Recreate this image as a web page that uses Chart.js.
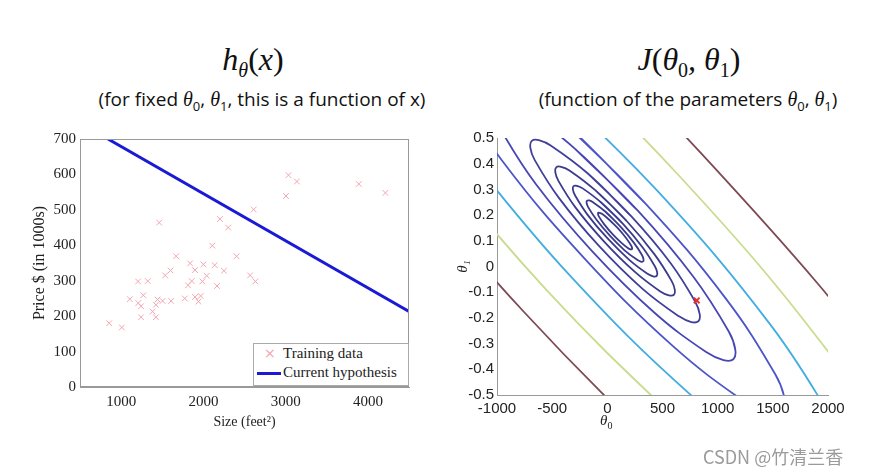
<!DOCTYPE html>
<html>
<head>
<meta charset="utf-8">
<script src="https://cdn.jsdelivr.net/npm/chart.js@4.4.0/dist/chart.umd.min.js"></script>
<style>
  body { margin: 0; background: #fff; width: 870px; height: 474px; position: relative; overflow: hidden; }
  .abs { position: absolute; }
  .math { font-family: "Liberation Serif", serif; font-style: italic; }
  .up { font-style: normal; }
  .ttl { font-size: 32px; line-height: 34px; text-align: center; white-space: nowrap; color: #111; }
  .ttl sub { font-size: 20px; }
  .subttl { font-family: "Open Sans", sans-serif; font-size: 19px; line-height: 22px; text-align: center; white-space: nowrap; color: #111; }
  .subttl .math { font-size: 20px; }
  .subttl sub { font-size: 13px; }
  .legend { left: 253px; top: 343px; width: 154px; height: 41px; border: 1px solid #aaa; background: #fff;
            font-family: "Liberation Serif", serif; font-size: 15px; color: #222; z-index: 2; }
  .legend div { position: absolute; left: 29px; white-space: nowrap; }
</style>
</head>
<body>

<div class="abs ttl math" style="left:153px;width:200px;top:42px">h<sub>θ</sub><span class="up">(</span>x<span class="up">)</span></div>
<div class="abs subttl" style="left:62px;width:400px;top:88px">(for fixed <span class="math">θ</span><sub>0</sub>, <span class="math">θ</span><sub>1</sub>, this is a function of x)</div>

<div class="abs ttl math" style="left:589px;width:200px;top:42px">J<span class="up">(</span>θ<sub class="up">0</sub>, θ<sub class="up">1</sub><span class="up">)</span></div>
<div class="abs subttl" style="left:488px;width:400px;top:88px">(function of the parameters <span class="math">θ</span><sub>0</sub>, <span class="math">θ</span><sub>1</sub>)</div>

<canvas id="leftChart" class="abs" width="402" height="310" style="left:28px;top:126px"></canvas>
<canvas id="rightChart" class="abs" width="418" height="310" style="left:452px;top:126px"></canvas>

<div class="abs legend">
  <div style="left:10px;top:1px;color:#f2a6b0;font-family:'DejaVu Sans';font-size:14px">×</div>
  <div style="top:1px">Training data</div>
  <div style="left:3px;top:28px;width:24px;height:3px;background:#1a1ad6"></div>
  <div style="top:20px">Current hypothesis</div>
</div>

<div class="abs math" style="left:600px;top:412px;font-size:15px;color:#222">θ<sub class="up" style="font-size:10px">0</sub></div>

<div class="abs" style="left:703px;top:443px;font-size:18px;color:#9a9a9a;font-family:'Noto Sans CJK SC',sans-serif">CSDN @竹清兰香</div>

<script>
// ------------------ Left panel: training data + hypothesis ------------------
const sizes  = [855, 1008, 1105, 1206, 1323, 1270, 1209, 1242, 1242, 1443, 1504, 1608, 1423, 1383, 1423,
                1463, 1536, 1601, 1669, 1774, 1814, 1838, 1858, 1899, 1899, 1940, 1967, 1988, 2000, 2040,
                2108, 2137, 2165, 2201, 2250, 2302, 2403, 2568, 2632, 2612, 3004, 3035, 3137, 3890, 4213];
const prices = [180, 168, 248, 298, 299, 259, 237, 228, 197, 247, 243, 243, 232, 213, 197,
                464, 315, 329, 369, 250, 287, 349, 299, 330, 254, 241, 257, 298, 346, 314,
                399, 344, 285, 474, 328, 450, 369, 315, 298, 501, 539, 598, 580, 573, 548];
const hypothesisX = [840, 4500];
const hypothesisY = [700, 213];
const sizeTicks = [1000, 2000, 3000, 4000];

// ------------------ Right panel: contour lines of J(theta0, theta1) ------------------
const ring1 = [[96.9,0.148],[17,0.182],[-48.7,0.205],[-70.4,0.209],[-82.6,0.209],[-84.4,0.204],[-75.7,0.194],[-29.6,0.165],[43.1,0.128],[123,0.094],[188.7,0.071],[210.4,0.067],[222.6,0.067],[224.4,0.072],[215.7,0.082],[169.6,0.111],[96.9,0.148],[17,0.182]];
const ring2 = [[117.1,0.156],[-16.4,0.213],[-126.7,0.249],[-163.6,0.257],[-184.4,0.256],[-188,0.248],[-173.9,0.231],[-98,0.182],[22.9,0.12],[156.4,0.063],[266.7,0.027],[303.6,0.019],[324.4,0.02],[328,0.028],[313.9,0.045],[238,0.094],[117.1,0.156],[-16.4,0.213]];
const ring3 = [[141.8,0.166],[-56.1,0.249],[-220.1,0.303],[-275.1,0.314],[-306.5,0.313],[-312.3,0.3],[-291.9,0.276],[-180.5,0.202],[-1.8,0.111],[196.1,0.027],[360.1,-0.027],[415.1,-0.038],[446.5,-0.037],[452.3,-0.024],[431.9,0],[320.5,0.074],[141.8,0.166],[-56.1,0.249]];
const ring4 = [[173.2,0.178],[-107.2,0.296],[-340.2,0.373],[-418.4,0.388],[-463.2,0.386],[-471.8,0.367],[-443.4,0.333],[-286,0.228],[-33.2,0.099],[247.2,-0.02],[480.2,-0.097],[558.4,-0.112],[603.2,-0.11],[611.8,-0.091],[583.4,-0.057],[426,0.048],[173.2,0.178],[-107.2,0.296]];
const ring5 = [[218,0.195],[-179.3,0.363],[-509.8,0.47],[-621,0.492],[-685,0.489],[-697.6,0.462],[-657.8,0.414],[-435.7,0.265],[-78,0.081],[319.3,-0.087],[649.8,-0.194],[761,-0.216],[825,-0.213],[837.6,-0.186],[797.8,-0.138],[575.7,0.012],[218,0.195],[-179.3,0.363]];
const ring6 = [[276.4,0.217],[-287.5,0.456],[-755.5,0.609],[-912.4,0.64],[-1002.4,0.637],[-1019.4,0.599],[-961.9,0.53],[-644.9,0.319],[-136.4,0.059],[427.5,-0.18],[895.5,-0.333],[1052.4,-0.364],[1142.4,-0.361],[1159.4,-0.323],[1101.9,-0.254],[784.9,-0.043],[276.4,0.217],[-287.5,0.456]];
const ring7 = [[348.1,0.244],[-447.3,0.583],[-1103.9,0.802],[-1322.5,0.846],[-1446.1,0.843],[-1466.5,0.791],[-1382.1,0.695],[-928.9,0.398],[-208.1,0.032],[587.3,-0.307],[1243.9,-0.526],[1462.5,-0.57],[1586.1,-0.567],[1606.5,-0.515],[1522.1,-0.419],[1068.9,-0.122],[348.1,0.244],[-447.3,0.583]];
const cyanUpper   = [[2124.9,-0.65],[1484.4,-0.23],[464.8,0.289],[-660.6,0.767]];
const cyanLower   = [[-1378,0.493],[-359,-0.026],[767,-0.504],[1696,-0.814]];
const yellowUpper = [[2981.9,-0.973],[2081.5,-0.377],[642,0.357],[-950.7,1.032]];
const yellowLower = [[-1981.5,0.638],[-542,-0.096],[1050.7,-0.771]];
const brownUpper  = [[4177.5,-1.439],[2894.8,-0.599],[855.1,0.438],[-1395,1.395]];
const brownLower  = [[-2794.8,0.86],[-755.1,-0.177],[1495,-1.134]];
const currentTheta = [[810, -0.132]];

const toXY = pts => pts.map(([x, y]) => ({ x, y }));

// draws the full box round the plot area (MATLAB style)
const boxPlugin = {
    id: "box",
    afterDraw(chart, args, opts) {
        if (!opts.color) return;
        const a = chart.chartArea, ctx = chart.ctx;
        ctx.save();
        ctx.strokeStyle = opts.color;
        ctx.lineWidth = 1;
        ctx.strokeRect(a.left + 0.5, a.top + 0.5, a.right - a.left - 1, a.bottom - a.top - 1);
        ctx.restore();
    }
};

const serif = { family: "'Liberation Serif', serif", size: 15 };
const sans  = { family: "'Liberation Sans', sans-serif", size: 15 };
const plain = v => String(v);

new Chart(document.getElementById("leftChart"), {
    type: "scatter",
    data: {
        datasets: [{
            label: "Current hypothesis",
            data: hypothesisX.map((x, i) => ({ x, y: hypothesisY[i] })),
            showLine: true,
            borderColor: "#1a1ad6",
            borderWidth: 3,
            pointRadius: 0
        }, {
            label: "Training data",
            data: sizes.map((x, i) => ({ x, y: prices[i] })),
            pointStyle: "crossRot",
            pointRadius: 4,
            borderColor: "#f2a6b0",
            borderWidth: 1
        }]
    },
    options: {
        responsive: false,
        animation: false,
        events: [],
        layout: { padding: { top: 8, right: 21, left: 0, bottom: 0 } },
        plugins: { legend: { display: false }, tooltip: { enabled: false }, box: { color: "#999" } },
        scales: {
            x: {
                type: "linear", min: 500, max: 4500,
                afterBuildTicks: s => { s.ticks = sizeTicks.map(value => ({ value })); },
                ticks: { padding: 6, font: serif, color: "#222", callback: plain },
                grid: { display: false, drawTicks: false },
                border: { color: "#999" },
                title: { display: true, text: "Size (feet²)", font: { ...serif, size: 14 }, color: "#222", padding: { top: 0, bottom: 5 } },
                afterFit: s => { s.height = 49; }
            },
            y: {
                min: 0, max: 700,
                ticks: { stepSize: 100, padding: 4, font: serif, color: "#222" },
                grid: { display: false, drawTicks: false },
                border: { color: "#999" },
                title: { display: true, text: "Price $ (in 1000s)", font: { ...serif, size: 16 }, color: "#222", padding: { top: 2, bottom: 0 } },
                afterFit: s => { s.width = 52; }
            }
        }
    },
    plugins: [boxPlugin]
});

function contour(pts, color) {
    return { data: toXY(pts), showLine: true, borderColor: color, borderWidth: 1.8, pointRadius: 0, tension: 0.4 };
}

const navy = "#3b3b8e";
new Chart(document.getElementById("rightChart"), {
    type: "scatter",
    data: {
        datasets: [
            { data: toXY(currentTheta), pointStyle: "crossRot", pointRadius: 4, borderColor: "#e8302a", borderWidth: 2 },
            contour(ring1, navy), contour(ring2, navy), contour(ring3, navy),
            contour(ring4, navy), contour(ring5, "#40409c"), contour(ring6, "#4646b4"), contour(ring7, "#4b55c8"),
            contour(cyanUpper, "#42ade0"), contour(cyanLower, "#42ade0"),
            contour(yellowUpper, "#c9dc8e"), contour(yellowLower, "#c9dc8e"),
            contour(brownUpper, "#7d4a52"), contour(brownLower, "#7d4a52")
        ]
    },
    options: {
        responsive: false,
        animation: false,
        events: [],
        elements: { line: { capBezierPoints: false } },
        layout: { padding: { top: 8, right: 42, left: 0, bottom: 0 } },
        plugins: { legend: { display: false }, tooltip: { enabled: false } },
        scales: {
            x: {
                type: "linear", min: -1000, max: 2000,
                ticks: { stepSize: 500, padding: 5, font: sans, color: "#222", callback: plain },
                grid: { display: false, drawTicks: false },
                border: { color: "#999" },
                afterFit: s => { s.height = 41; }
            },
            y: {
                min: -0.5, max: 0.5,
                ticks: { stepSize: 0.1, padding: 3, font: sans, color: "#222" },
                grid: { display: false, drawTicks: false },
                border: { color: "#999" },
                title: { display: true, text: "θ₁", font: { family: "'Liberation Serif', serif", size: 15, style: "italic" }, color: "#222", padding: { top: 2, bottom: 0 } },
                afterFit: s => { s.width = 45; }
            }
        }
    }
});
</script>
</body>
</html>
